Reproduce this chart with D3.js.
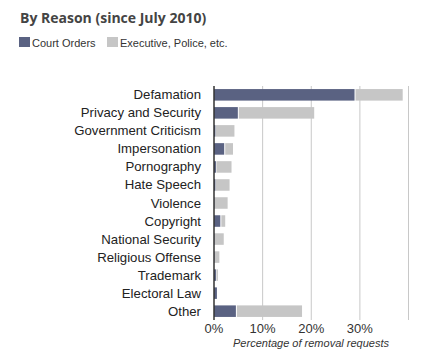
<!DOCTYPE html>
<html>
<head>
<meta charset="utf-8">
<script src="https://cdn.jsdelivr.net/npm/d3@7"></script>
<style>
  body { margin: 0; background: #fff; }
  svg text { font-family: "Liberation Sans", Arial, sans-serif; }
</style>
</head>
<body>
<div id="chart"></div>
<script>
// values (percent of removal requests)
var reasons = ["Defamation", "Privacy and Security", "Government Criticism", "Impersonation",
  "Pornography", "Hate Speech", "Violence", "Copyright", "National Security",
  "Religious Offense", "Trademark", "Electoral Law", "Other"]
var courtOrders = [28.9, 4.9, 0.3, 2.1, 0.4, 0.3, 0.1, 1.3, 0.1, 0.1, 0.4, 0.6, 4.5]
var executive = [9.7, 15.5, 3.8, 1.6, 3.1, 2.8, 2.6, 0.8, 1.8, 0.9, 0.3, 0.0, 13.4]
var tickValues = [0, 10, 20, 30]
var gridValues = [10, 20, 30, 40]
var seriesNames = ["Court Orders", "Executive, Police, etc."]
var colors = ["#5a6282", "#c6c6c6"]

var rows = reasons.map(function (r, i) { return { reason: r, court: courtOrders[i], exec: executive[i] } })

var svg = d3.select('#chart').append('svg').attr('width', 430).attr('height', 364)

svg.append('text').attr('x', 20).attr('y', 23)
  .style('font-family', '"Open Sans", sans-serif').style('font-weight', 'bold')
  .style('font-size', '14px').attr('fill', '#444').text('By Reason (since July 2010)')

// legend
var legendX = [19, 107]
seriesNames.forEach(function (name, i) {
  svg.append('rect').attr('x', legendX[i]).attr('y', 37).attr('width', 11).attr('height', 10).attr('fill', colors[i])
  svg.append('text').attr('x', legendX[i] + 13).attr('y', 46.5).style('font-size', '11px')
    .attr('fill', '#333').text(name)
})

var x = d3.scaleLinear().domain([0, 40]).range([214, 408.5])
var y = d3.scaleBand().domain(reasons).range([86, 320]).paddingInner(0.36).paddingOuter(0.17)

// gridlines
svg.append('g').selectAll('line').data(gridValues).enter().append('line')
  .attr('x1', function (d) { return x(d) }).attr('x2', function (d) { return x(d) })
  .attr('y1', 86).attr('y2', 320).attr('stroke', '#c8c8c8').attr('stroke-width', 1)

// bars
var g = svg.append('g')
g.selectAll('.court').data(rows).enter().append('rect').attr('class', 'court')
  .attr('x', x(0)).attr('y', function (d) { return y(d.reason) })
  .attr('width', function (d) { return x(d.court) - x(0) }).attr('height', y.bandwidth())
  .attr('fill', colors[0])
g.selectAll('.exec').data(rows).enter().append('rect').attr('class', 'exec')
  .attr('x', function (d) { return x(d.court) + (d.court > 1 ? 1 : 0.5) }).attr('y', function (d) { return y(d.reason) })
  .attr('width', function (d) { return Math.max(0, x(d.exec) - x(0)) }).attr('height', y.bandwidth())
  .attr('fill', colors[1])

// axis line
svg.append('line').attr('x1', x(0)).attr('x2', x(0)).attr('y1', 86).attr('y2', 320)
  .attr('stroke', '#333').attr('stroke-width', 1.5)

// category labels
svg.append('g').selectAll('text').data(reasons).enter().append('text')
  .attr('x', 201).attr('y', function (d) { return y(d) + y.bandwidth() / 2 + 4.5 })
  .attr('text-anchor', 'end').style('font-size', '13.2px').attr('fill', '#222')
  .text(function (d) { return d })

// x tick labels
svg.append('g').selectAll('text').data(tickValues).enter().append('text')
  .attr('x', function (d) { return x(d) }).attr('y', 333)
  .attr('text-anchor', 'middle').style('font-size', '13px').attr('fill', '#333')
  .text(function (d) { return d + '%' })

svg.append('text').attr('x', 311).attr('y', 347).attr('text-anchor', 'middle')
  .style('font-size', '11px').style('font-style', 'italic').attr('fill', '#333')
  .text('Percentage of removal requests')
</script>
</body>
</html>
